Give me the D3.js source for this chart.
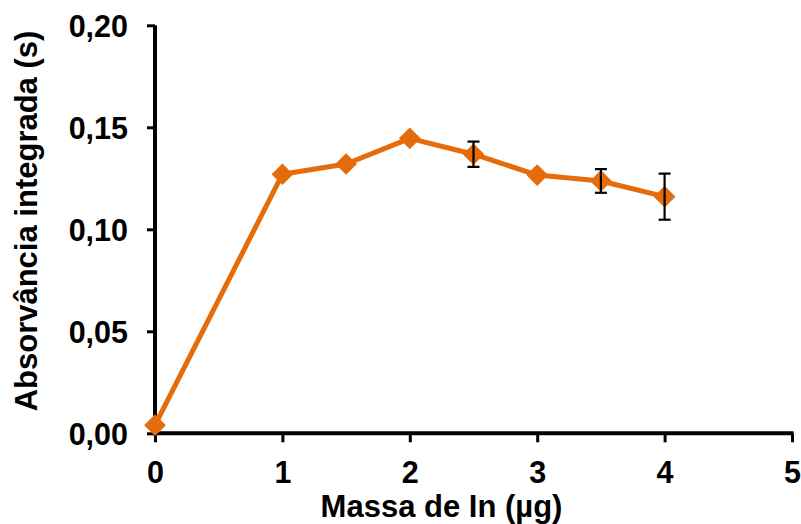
<!DOCTYPE html>
<html>
<head>
<meta charset="utf-8">
<script src="https://cdn.jsdelivr.net/npm/d3@7"></script>
<style>
  html, body { margin: 0; padding: 0; background: #fff; }
  svg { display: block; }
  text { font-family: "Liberation Sans", Arial, sans-serif; font-weight: bold; fill: #000; }
</style>
</head>
<body>
<svg id="chart" width="801" height="524"></svg>
<script>
// Data
const massa = [0, 1, 1.5, 2, 2.5, 3, 3.5, 4];
const absorvancia = [0.004, 0.127, 0.132, 0.1446, 0.1368, 0.1266, 0.1237, 0.116];
const erro = [0, 0, 0, 0, 0.0062, 0, 0.0058, 0.0113];
const xTicks = [0, 1, 2, 3, 4, 5];
const yTicks = [0, 0.05, 0.10, 0.15, 0.20];
const xTitle = "Massa de In (µg)";
const yTitle = "Absorvância integrada (s)";

const svg = d3.select("#chart");
const x = d3.scaleLinear().domain([0, 5]).range([155, 792]);
const y = d3.scaleLinear().domain([0, 0.20]).range([433.3, 25.3]);
const orange = "#E46C0A";
const fmt = d => d3.format(".2f")(d).replace(".", ",");

// Y axis
const yAxis = d3.axisLeft(y).tickValues(yTicks).tickSize(8).tickFormat(fmt);
const gy = svg.append("g").attr("transform", `translate(${x(0)},0)`).call(yAxis);
gy.select(".domain").remove();
gy.selectAll(".tick line").attr("stroke", "#000").attr("stroke-width", 3);
gy.selectAll(".tick text").attr("x", -27).attr("dy", null).attr("y", 11)
  .style("font-size", "30.5px").style("font-family", '"Liberation Sans", Arial, sans-serif').style("font-weight", "bold");

// X axis
const xAxis = d3.axisBottom(x).tickValues(xTicks).tickSize(9).tickFormat(d3.format("d"));
const gx = svg.append("g").attr("transform", `translate(0,${y(0)})`).call(xAxis);
gx.select(".domain").remove();
gx.selectAll(".tick line").attr("stroke", "#000").attr("stroke-width", 3);
gx.selectAll(".tick text").attr("dy", null).attr("y", 50)
  .style("font-size", "30.5px").style("font-family", '"Liberation Sans", Arial, sans-serif').style("font-weight", "bold");

// Axis lines
svg.append("line").attr("x1", x(0)).attr("x2", x(0)).attr("y1", y(0.20)).attr("y2", y(0) + 2)
  .attr("stroke", "#000").attr("stroke-width", 4);
svg.append("line").attr("x1", x(0) - 2).attr("x2", x(5) + 1.5).attr("y1", y(0)).attr("y2", y(0))
  .attr("stroke", "#000").attr("stroke-width", 4);

// Titles
svg.append("text").attr("x", 441.5).attr("y", 517).attr("text-anchor", "middle")
  .style("font-size", "31px").text(xTitle);
svg.append("text").attr("transform", "translate(37,221) rotate(-90)").attr("text-anchor", "middle")
  .style("font-size", "31px").text(yTitle);

const data = massa.map((m, i) => ({ m, v: absorvancia[i], e: erro[i] }));

// Line
svg.append("path").datum(data)
  .attr("d", d3.line().x(d => x(d.m)).y(d => y(d.v)))
  .attr("fill", "none").attr("stroke", orange).attr("stroke-width", 5).attr("stroke-linejoin", "round");

// Markers
const diamond = d3.symbol().type(d3.symbolSquare).size(235);
svg.selectAll(".mk").data(data).enter().append("path")
  .attr("class", "mk")
  .attr("d", diamond)
  .attr("transform", d => `translate(${x(d.m)},${y(d.v)}) rotate(45)`)
  .attr("fill", orange);

// Error bars
const eb = svg.selectAll(".eb").data(data.filter(d => d.e > 0)).enter().append("g").attr("class", "eb");
eb.append("line").attr("x1", d => x(d.m)).attr("x2", d => x(d.m))
  .attr("y1", d => y(d.v + d.e)).attr("y2", d => y(d.v - d.e))
  .attr("stroke", "#000").attr("stroke-width", 2.2);
eb.append("line").attr("x1", d => x(d.m) - 6).attr("x2", d => x(d.m) + 6)
  .attr("y1", d => y(d.v + d.e)).attr("y2", d => y(d.v + d.e))
  .attr("stroke", "#000").attr("stroke-width", 2.2);
eb.append("line").attr("x1", d => x(d.m) - 6).attr("x2", d => x(d.m) + 6)
  .attr("y1", d => y(d.v - d.e)).attr("y2", d => y(d.v - d.e))
  .attr("stroke", "#000").attr("stroke-width", 2.2);
</script>
</body>
</html>
